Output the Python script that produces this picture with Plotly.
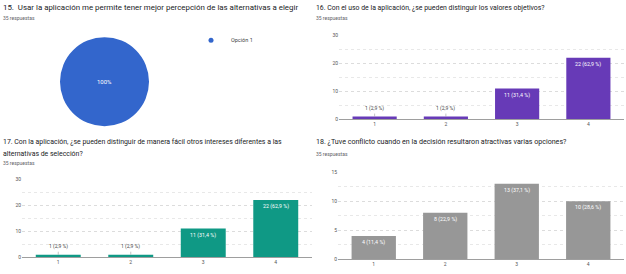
import plotly.graph_objects as go

W, H = 626, 274

# ---------------- data ----------------
pie_labels = ["Opción 1"]
pie_values = [35]

categories = ["1", "2", "3", "4"]

q16_title = "16. Con el uso de la aplicación, ¿se pueden distinguir los valores objetivos?"
q16_counts = [1, 1, 11, 22]
q16_pct = ["2,9", "2,9", "31,4", "62,9"]

q17_title = ("17. Con la aplicación, ¿se pueden distinguir de manera fácil otros intereses diferentes a las"
             "<br>alternativas de selección?")
q17_counts = [1, 1, 11, 22]
q17_pct = ["2,9", "2,9", "31,4", "62,9"]

q18_title = "18. ¿Tuve conflicto cuando en la decisión resultaron atractivas varias opciones?"
q18_counts = [4, 8, 13, 10]
q18_pct = ["11,4", "22,9", "37,1", "28,6"]

q15_title = "15.  Usar la aplicación me permite tener mejor percepción de las alternativas a elegir"
responses = "35 respuestas"

FONT = "Roboto"


def px_x(p):
    return p / W


def px_y(p):
    return 1 - p / H


fig = go.Figure()

# pie
fig.add_trace(go.Pie(
    labels=pie_labels, values=pie_values,
    marker=dict(colors=["#3366cc"], line=dict(width=0)),
    textinfo="percent", texttemplate="%{percent:.0%}",
    textfont=dict(family=FONT, size=6, color="white"),
    insidetextorientation="horizontal",
    sort=False, showlegend=False, hoverinfo="label+value",
    domain=dict(x=[px_x(59.5), px_x(149.5)], y=[px_y(126), px_y(35)]),
))

# legend entry for the pie (circle marker like the reference)
fig.add_trace(go.Scatter(
    x=[None], y=[None], mode="markers", name=pie_labels[0],
    marker=dict(color="#3366cc", size=5, symbol="circle"),
    xaxis="x", yaxis="y", showlegend=True,
))

panels = [
    # counts, pct, color, xd (px), yd (y=0 px, y=max px), ymax, dtick
    (q16_counts, q16_pct, "#673ab7", (339, 624), (119, 33), 30, 10),
    (q17_counts, q17_pct, "#0f9985", (22, 312), (260, 180), 30, 10),
    (q18_counts, q18_pct, "#979797", (338, 624), (262, 173), 15, 5),
]

annotations = []
for i, (counts, pct, color, xd, yd, ymax, dt) in enumerate(panels):
    sfx = "" if i == 0 else str(i + 1)
    fig.add_trace(go.Bar(
        x=categories, y=counts, marker=dict(color=color, line=dict(width=0)),
        xaxis="x" + sfx, yaxis="y" + sfx, showlegend=False,
        hovertemplate="%{x}: %{y}<extra></extra>",
    ))
    fig.layout["xaxis" + sfx] = dict(
        domain=[px_x(xd[0]), px_x(xd[1])], anchor="y" + sfx,
        type="category", range=[-0.5, 3.5],
        showgrid=False, showline=True, linecolor="#9e9e9e", linewidth=1,
        ticks="", tickfont=dict(family=FONT, size=5, color="#555"),
        fixedrange=True,
    )
    fig.layout["yaxis" + sfx] = dict(
        domain=[px_y(yd[0]), px_y(yd[1])], anchor="x" + sfx,
        range=[0, ymax], dtick=dt, showline=False, zeroline=False,
        showgrid=True, gridcolor="#dcdcdc", griddash="dot", gridwidth=1,
        minor=dict(dtick=dt / 2, showgrid=True, gridcolor="#e8e8e8", griddash="dot", gridwidth=1),
        ticks="", tickfont=dict(family=FONT, size=5, color="#555"),
        fixedrange=True,
    )
    for k, (v, p) in enumerate(zip(counts, pct)):
        label = f"{v} ({p} %)"
        if v / ymax < 0.15:
            annotations.append(dict(
                x=k, y=v, xref="x" + sfx, yref="y" + sfx, text=label,
                showarrow=True, arrowhead=0, arrowwidth=0.6, arrowcolor="#9e9e9e",
                ax=0, ay=-8, standoff=0,
                font=dict(family=FONT, size=5, color="#444"),
            ))
        else:
            annotations.append(dict(
                x=k, y=v, xref="x" + sfx, yref="y" + sfx, text=label,
                showarrow=False, yanchor="top", yshift=-1,
                font=dict(family=FONT, size=5.3, color="white"),
            ))


def title(text, x, y, size, color="#202124"):
    annotations.append(dict(
        text=text, x=px_x(x), y=px_y(y), xref="paper", yref="paper",
        xanchor="left", yanchor="middle", showarrow=False, align="left",
        font=dict(family=FONT, size=size, color=color),
    ))


title(q15_title, 1, 5, 7.9)
title(responses, 1, 15, 5, "#5f6368")
title(q16_title, 314, 5, 6.9)
title(responses, 314, 15, 5, "#5f6368")
title("17. Con la aplicación, ¿se pueden distinguir de manera fácil otros intereses diferentes a las",
      1, 142, 6.95)
title("alternativas de selección?", 1, 154, 6.95)
title(responses, 1, 164, 5, "#5f6368")
title(q18_title, 314, 142, 7.1)
title(responses, 314, 154, 5, "#5f6368")

fig.update_layout(
    width=W, height=H, margin=dict(l=0, r=0, t=0, b=0),
    paper_bgcolor="white", plot_bgcolor="white",
    bargap=0.38,
    annotations=annotations,
    showlegend=True,
    legend=dict(x=px_x(191), y=px_y(38), xanchor="left", yanchor="middle",
                font=dict(family=FONT, size=5.5, color="#444"),
                bgcolor="rgba(0,0,0,0)", itemwidth=30),
)

fig.write_html("out.html", config={"displayModeBar": False},
               post_script="document.body.style.margin='0';")
